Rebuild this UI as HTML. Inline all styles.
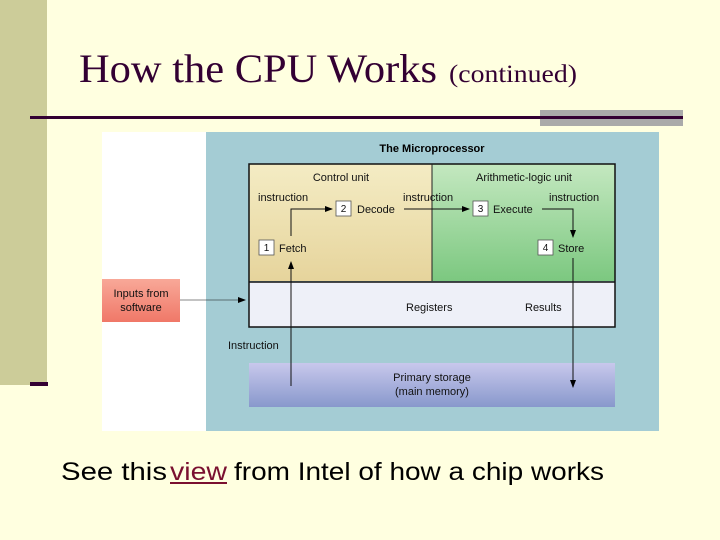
<!DOCTYPE html>
<html><head><style>html,body{margin:0;padding:0;background:#ffffe0}svg{display:block}</style></head>
<body>
<svg width="720" height="540" xmlns="http://www.w3.org/2000/svg" font-family="Liberation Sans, sans-serif">
<defs>
<linearGradient id="cu" x1="0" y1="0" x2="0" y2="1"><stop offset="0" stop-color="#f4ecc4"/><stop offset="1" stop-color="#e6d49c"/></linearGradient>
<linearGradient id="alu" x1="0" y1="0" x2="0" y2="1"><stop offset="0" stop-color="#c4e8c0"/><stop offset="1" stop-color="#7cc880"/></linearGradient>
<linearGradient id="ps" x1="0" y1="0" x2="0" y2="1"><stop offset="0" stop-color="#c8c8ec"/><stop offset="1" stop-color="#8898cc"/></linearGradient>
<linearGradient id="in" x1="0" y1="0" x2="0" y2="1"><stop offset="0" stop-color="#f8a898"/><stop offset="1" stop-color="#f07868"/></linearGradient>
<marker id="a" markerWidth="8" markerHeight="8" refX="7" refY="4" orient="auto" markerUnits="userSpaceOnUse"><path d="M0,1 L8,4 L0,7z" fill="#000"/></marker>
</defs>
<rect width="720" height="540" fill="#ffffe0"/>
<rect x="0" y="0" width="47" height="385" fill="#cccc99"/>
<rect x="30" y="382" width="18" height="4" fill="#330033"/>
<text x="79" y="82" font-family="Liberation Serif, serif" font-size="40" fill="#330033" textLength="358" lengthAdjust="spacingAndGlyphs">How the CPU Works</text>
<text x="449" y="82" font-family="Liberation Serif, serif" font-size="25" fill="#330033" textLength="128" lengthAdjust="spacingAndGlyphs">(continued)</text>
<rect x="540" y="110" width="143" height="16" fill="#aaaaaa"/>
<rect x="30" y="116" width="653" height="3" fill="#330033"/>
<rect x="102" y="132" width="104" height="299" fill="#ffffff"/>
<rect x="206" y="132" width="453" height="299" fill="#a4ccd4"/>
<text x="432" y="152" font-size="11" font-weight="bold" text-anchor="middle">The Microprocessor</text>
<rect x="249" y="164" width="183" height="117" fill="url(#cu)"/>
<rect x="432" y="164" width="183" height="117" fill="url(#alu)"/>
<rect x="249" y="282" width="366" height="45" fill="#eef0f8"/>
<rect x="249" y="164" width="366" height="163" fill="none" stroke="#111" stroke-width="1.5"/>
<line x1="249" y1="282" x2="615" y2="282" stroke="#111" stroke-width="1.5"/>
<line x1="432" y1="164" x2="432" y2="281" stroke="#222" stroke-width="1"/>
<rect x="249" y="363" width="366" height="44" fill="url(#ps)"/>
<rect x="102" y="279" width="78" height="43" fill="url(#in)"/>
<g font-size="11" fill="#111">
<text x="341" y="181" text-anchor="middle">Control unit</text>
<text x="524" y="181" text-anchor="middle">Arithmetic-logic unit</text>
<text x="258" y="201">instruction</text>
<text x="403" y="201">instruction</text>
<text x="549" y="201">instruction</text>
<text x="357" y="213">Decode</text>
<text x="493" y="213">Execute</text>
<text x="279" y="252">Fetch</text>
<text x="558" y="252">Store</text>
<text x="406" y="311">Registers</text>
<text x="525" y="311">Results</text>
<text x="228" y="349">Instruction</text>
<text x="432" y="381" text-anchor="middle">Primary storage</text>
<text x="432" y="395" text-anchor="middle">(main memory)</text>
<text x="141" y="297" text-anchor="middle">Inputs from</text>
<text x="141" y="311" text-anchor="middle">software</text>
</g>
<g fill="#fff" stroke="#555" stroke-width="0.8">
<rect x="336" y="201" width="15" height="15"/><rect x="473" y="201" width="15" height="15"/>
<rect x="259" y="240" width="15" height="15"/><rect x="538" y="240" width="15" height="15"/>
</g>
<g font-size="10" text-anchor="middle" fill="#111">
<text x="343.5" y="212">2</text><text x="480.5" y="212">3</text><text x="266.5" y="251">1</text><text x="545.5" y="251">4</text>
</g>
<g stroke="#111" stroke-width="1" fill="none">
<polyline points="291,236 291,209 332,209" marker-end="url(#a)"/>
<line x1="404" y1="209" x2="469" y2="209" marker-end="url(#a)"/>
<polyline points="542,209 573,209 573,237" marker-end="url(#a)"/>
<line x1="291" y1="386" x2="291" y2="262" marker-end="url(#a)"/>
<line x1="573" y1="258" x2="573" y2="387" marker-end="url(#a)"/>
<line x1="180" y1="300" x2="245" y2="300" stroke-width="0.6" marker-end="url(#a)"/>
</g>
<g font-size="25" fill="#000">
<text x="61" y="480" textLength="106" lengthAdjust="spacingAndGlyphs">See this</text>
<text x="170" y="480" fill="#7a1030" textLength="57" lengthAdjust="spacingAndGlyphs">view</text>
<text x="234" y="480" textLength="370" lengthAdjust="spacingAndGlyphs">from Intel of how a chip works</text>
</g>
<rect x="170" y="482" width="57" height="2" fill="#7a1030"/>
</svg>
</body></html>
